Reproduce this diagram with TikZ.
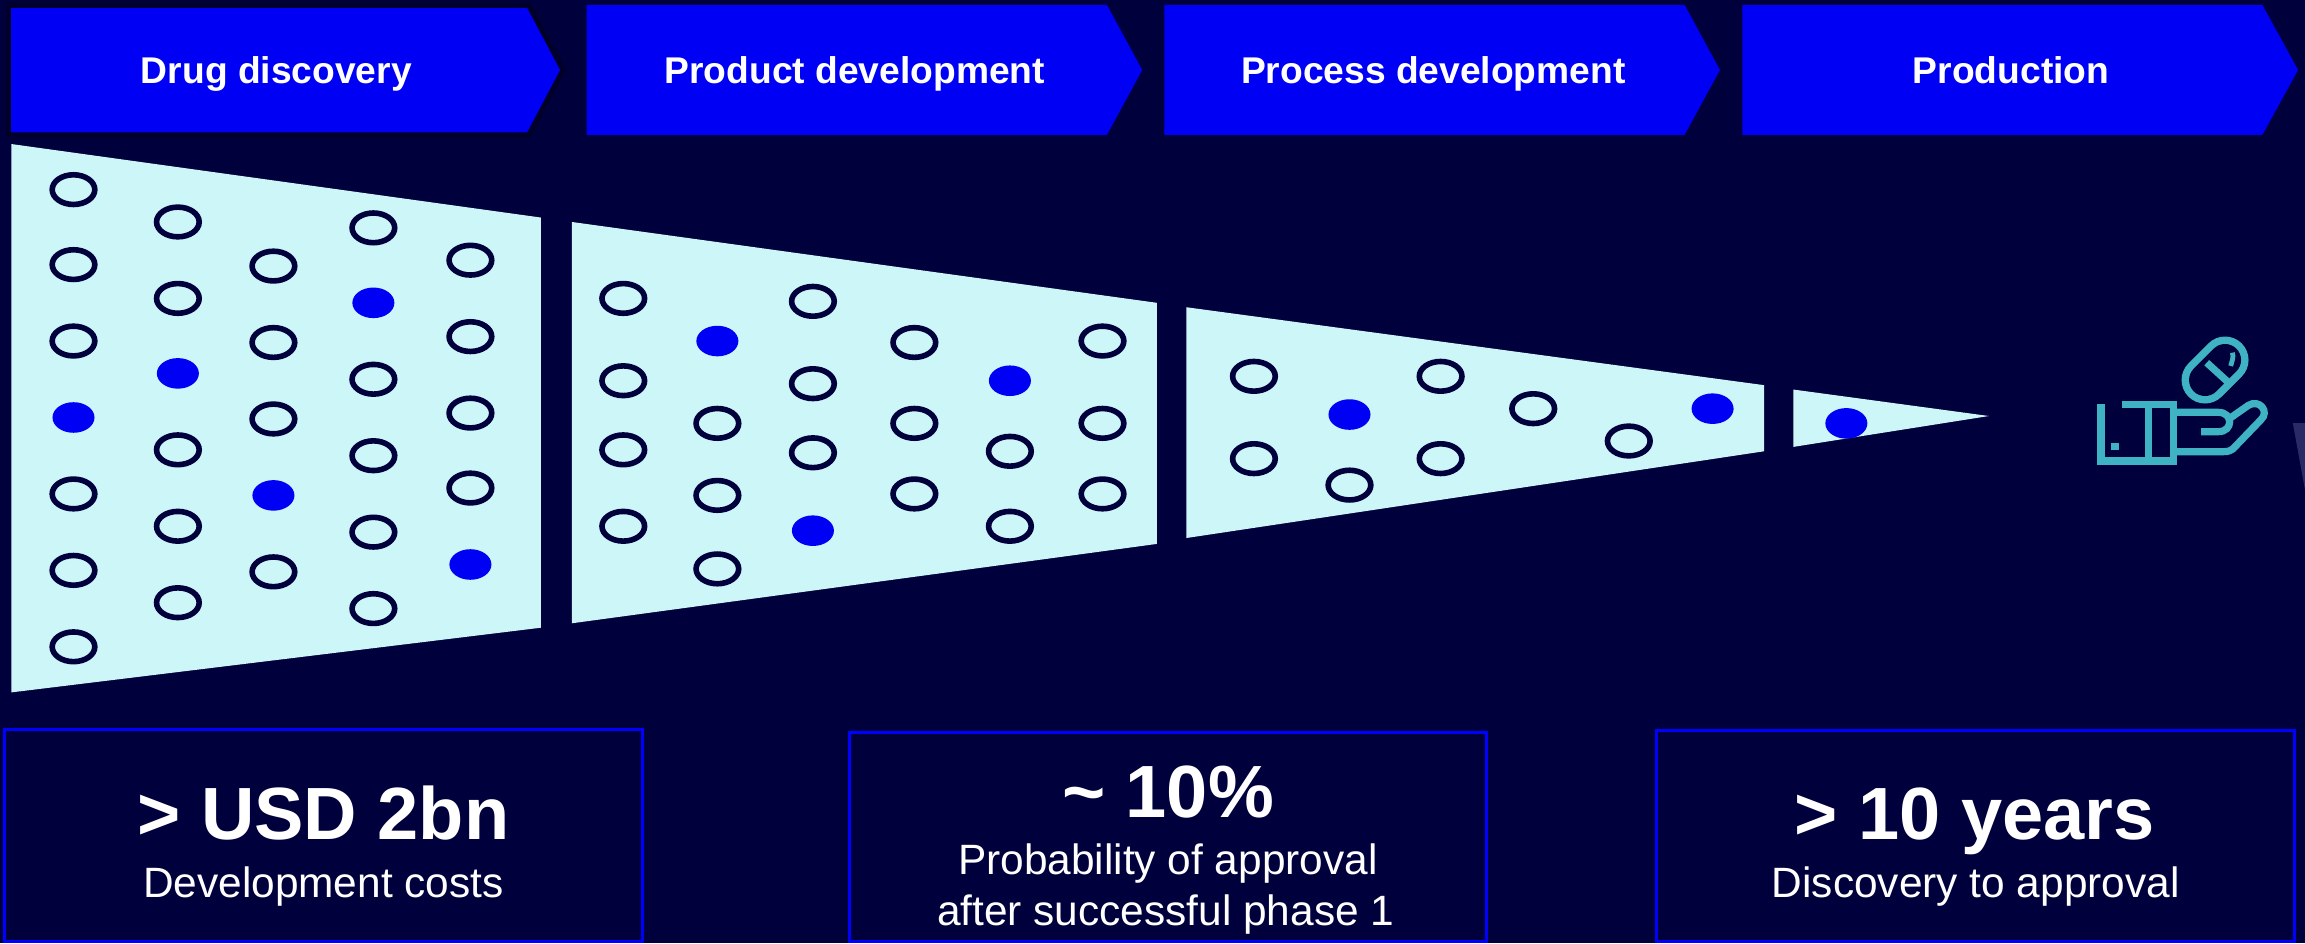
\documentclass[tikz,border=0pt]{standalone}
\usepackage{fontspec}
\setmainfont{Liberation Sans}
\definecolor{bgc}{HTML}{00003C}
\definecolor{bluec}{HTML}{0000F5}
\definecolor{lightc}{HTML}{CCF6F8}
\definecolor{tealc}{HTML}{3FB3C4}
\definecolor{edgec}{HTML}{000028}
\definecolor{faintc}{HTML}{2A2A66}
\tikzset{
  chev/.style={fill=bluec},
  head/.style={text=white,font=\bfseries\fontsize{18.6}{22}\selectfont,anchor=base},
  trap/.style={fill=lightc},
  dotc/.style={draw=bgc,line width=2.8pt,fill=none},
  dotf/.style={fill=bluec},
  kbox/.style={draw=blue,line width=1.5pt},
  big/.style={text=white,font=\bfseries\fontsize{37}{42}\selectfont,anchor=base},
  small/.style={text=white,font=\fontsize{21.2}{26}\selectfont,anchor=base},
  icon/.style={draw=tealc,line width=3.6pt,line join=miter}
}
\newcommand{\ringdots}[2]{\foreach \p in {#2}{\draw[dotc] (#1,\p) ellipse (14.5 and 10.1);}}
\newcommand{\fulldot}[2]{\fill[dotf] (#1,#2) ellipse (14.3 and 10.4);}
\begin{document}
\begin{tikzpicture}[x=0.735pt,y=-0.735pt]
\useasboundingbox (0,0) rectangle (1568,641.5);
\fill[bgc] (0,0) rectangle (1568,641.5);
% chevrons
\draw[edgec,line width=5pt] (7.5,5.4) -- (358.6,5.4) -- (381,47.6) -- (358.6,90) -- (7.5,90) -- cycle;
\fill[chev] (7.5,5.4) -- (358.6,5.4) -- (381,47.6) -- (358.6,90) -- (7.5,90) -- cycle;
\fill[chev] (399,3.4) -- (753,3.4) -- (777,47.6) -- (753,91.8) -- (399,91.8) -- cycle;
\fill[chev] (792,3.4) -- (1146,3.4) -- (1170,47.6) -- (1146,91.8) -- (792,91.8) -- cycle;
\fill[chev] (1185.3,3.4) -- (1539,3.4) -- (1563.3,47.6) -- (1539,91.8) -- (1185.3,91.8) -- cycle;
\node[head] (h1) at (188,56.5) {Drug discovery};
\node[head] (h2) at (581.5,56.5) {Product development};
\node[head] (h3) at (975,56.5) {Process development};
\node[head] (h4) at (1368,56.5) {Production};
% funnel
\fill[trap] (7.8,98) -- (368,148) -- (368,427) -- (7.8,471) -- cycle;
\fill[trap] (389,151) -- (787,206) -- (787,370) -- (389,424) -- cycle;
\fill[trap] (807,209) -- (1200,262) -- (1200,307) -- (807,366) -- cycle;
\fill[trap] (1220,265) -- (1353,283) -- (1220,304) -- cycle;
% dots
\ringdots{50}{129,180,232,336,388,440}
\fulldot{50}{284}
\ringdots{121}{151,203,306,358,410}
\fulldot{121}{254}
\ringdots{186}{181,233,285,389}
\fulldot{186}{337}
\ringdots{254}{155,258,310,362,414}
\fulldot{254}{206}
\ringdots{320}{177,229,281,332}
\fulldot{320}{384}
\ringdots{424}{203,259,306,358}
\ringdots{488}{288,337,387}
\fulldot{488}{232}
\ringdots{553}{205,261,308}
\fulldot{553}{361}
\ringdots{622}{233,288,336}
\ringdots{687}{307,358}
\fulldot{687}{259}
\ringdots{750}{232,288,336}
\ringdots{853}{256,312}
\ringdots{918}{330}
\fulldot{918}{282}
\ringdots{980}{256,312}
\ringdots{1043}{278}
\ringdots{1108}{300}
\fulldot{1165}{278}
\fulldot{1256}{288}
% key figure boxes
\draw[kbox] (3,496.5) rectangle (437,640.8);
\draw[kbox] (577.6,498.4) rectangle (1011,640.8);
\draw[kbox] (1126.7,496.6) rectangle (1561,640.8);
\node[big] (k1) at (220,571) {> USD 2bn};
\node[small] (s1) at (220,610.7) {Development costs};
\node[big] (k2) at (794.5,556) {\textasciitilde{} 10\%};
\node[small] (s2) at (794.5,594.6) {Probability of approval};
\node[small] (s2b) at (793,629.3) {after successful phase 1};
\node[big] (k3) at (1343.5,571) {> 10 years};
\node[small] (s3) at (1344,610.7) {Discovery to approval};
% faint fragment at right edge
\fill[faintc] (1559.7,287.8) -- (1568,287.8) -- (1568,333.3) -- cycle;
% icon
\begin{scope}[x=0.16667pt,y=-0.16667pt,shift={(1000pt,-150pt)}]
\draw[icon] (303,313) -- (303,483) -- (520,483) -- (520,313) -- (365,313);
\draw[icon] (445,313) -- (445,483);
\fill[tealc] (334,429) rectangle (356,451);
\draw[icon] (530,337) -- (655,337) .. controls (700,337) and (700,395) .. (655,395) -- (603,395);
\draw[icon] (685,358) -- (745,316) .. controls (778,296) and (810,335) .. (782,360) -- (705,440) .. controls (695,452) and (685,455) .. (670,455) -- (530,455);
% pill
\draw[tealc,line width=23.5pt,line cap=round] (615,240) -- (675,180);
\draw[bgc,line width=16pt,line cap=round] (615,240) -- (675,180);
\draw[icon] (620,188) -- (688,250);
\draw[icon,line width=2.4pt] (697,158) .. controls (702,170) and (695,185) .. (692,198);
\end{scope}
\end{tikzpicture}
\end{document}
